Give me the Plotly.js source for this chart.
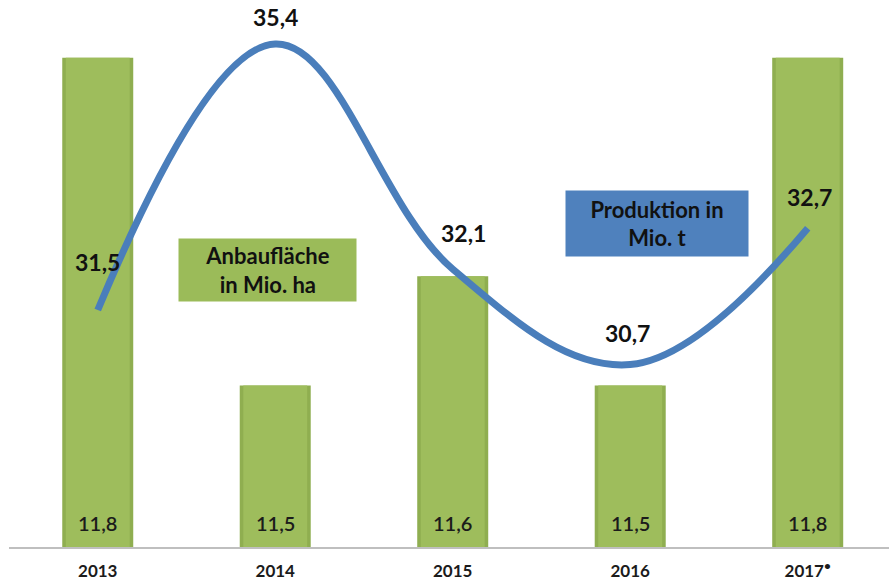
<!DOCTYPE html>
<html>
<head>
<meta charset="utf-8">
<script src="https://cdn.plot.ly/plotly-3.0.1.min.js"></script>
<style>html,body{margin:0;padding:0;background:#fff;}#chart{width:889px;height:587px;}</style>
</head>
<body>
<div id="chart"></div>
<script>
// ---- data ----
const years = ["2013", "2014", "2015", "2016", "2017*"];
const tickLabels = ["2013", "2014", "2015", "2016", "2017<sup>•</sup>"];
const areaMioHa = [11.8, 11.5, 11.6, 11.5, 11.8];
const productionMioT = [31.5, 35.4, 32.1, 30.7, 32.7];

// ---- styling ----
const labelOffsets = [[0, 48], [0, 27], [11, 36], [-3, 32], [2, 31]]; // [dx, dy] px
const fmt = v => v.toFixed(1).replace('.', ',');
const FONT = 'Lato, "Open Sans", sans-serif';

const traces = [
  {
    type: 'bar', x: years, y: areaMioHa, width: 0.4,
    marker: {color: '#8FAE50', line: {width: 0}},
    hoverinfo: 'skip', showlegend: false
  },
  {
    type: 'bar', x: years, y: areaMioHa, width: 0.36,
    marker: {color: '#9EBD5C', line: {width: 0}},
    hoverinfo: 'skip', showlegend: false
  },
  {
    type: 'scatter', mode: 'lines', x: years, y: productionMioT, yaxis: 'y2',
    line: {color: '#4A7EBB', width: 7, shape: 'spline', smoothing: 1.1},
    hoverinfo: 'skip', showlegend: false
  }
];

const annotations = productionMioT.map((v, i) => ({
  x: i, y: v, xref: 'x', yref: 'y2',
  text: '<b>' + fmt(v) + '</b>', showarrow: false,
  xshift: labelOffsets[i][0], yshift: labelOffsets[i][1],
  font: {family: FONT, size: 23, color: '#111'}
}));

areaMioHa.forEach((v, i) => annotations.push({
  x: i, y: 0, xref: 'x', yref: 'paper', yanchor: 'middle',
  yshift: 24, text: fmt(v), showarrow: false,
  font: {family: FONT, size: 20, color: '#1b1b1b', weight: 600}
}));

annotations.push({
  xref: 'paper', yref: 'paper', x: (178 - 9) / 880, y: 1 - 238 / 547,
  xanchor: 'left', yanchor: 'top', width: 177, height: 62,
  text: '<b>Anbaufläche<br>in Mio. ha</b>', showarrow: false,
  bgcolor: '#9BBB59', borderpad: 0,
  font: {family: FONT, size: 22, color: '#111'}
});
annotations.push({
  xref: 'paper', yref: 'paper', x: (565 - 9) / 880, y: 1 - 190 / 547,
  xanchor: 'left', yanchor: 'top', width: 182, height: 65,
  text: '<b>Produktion in<br>Mio. t</b>', showarrow: false,
  bgcolor: '#4F81BD', borderpad: 0,
  font: {family: FONT, size: 22, color: '#111'}
});

const layout = {
  width: 889, height: 587,
  margin: {l: 9, r: 0, t: 0, b: 40},
  paper_bgcolor: '#fff', plot_bgcolor: '#fff',
  barmode: 'overlay',
  showlegend: false,
  xaxis: {
    type: 'category', range: [-0.5, 4.458],
    tickvals: years, ticktext: tickLabels,
    showline: true, linecolor: '#BFBFBF', linewidth: 2,
    ticks: '', showgrid: false, zeroline: false, ticklabelstandoff: 8,
    tickfont: {family: FONT, size: 17, color: '#1b1b1b', weight: 'bold'}
  },
  yaxis: {range: [11.352, 11.853], visible: false, showgrid: false, zeroline: false},
  yaxis2: {range: [28.025, 36.045], overlaying: 'y', visible: false, showgrid: false, zeroline: false},
  annotations: annotations
};

Plotly.newPlot('chart', traces, layout, {displayModeBar: false, staticPlot: true});
</script>
</body>
</html>
